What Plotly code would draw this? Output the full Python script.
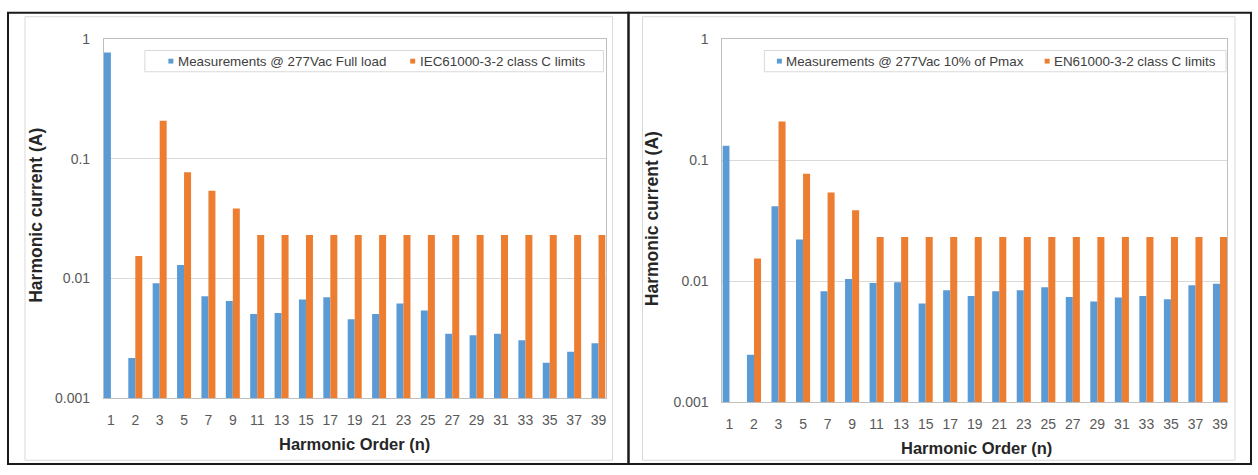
import plotly.graph_objects as go

# Harmonic orders shown on the category axis
harmonics = ["1", "2", "3", "5", "7", "9", "11", "13", "15", "17", "19",
             "21", "23", "25", "27", "29", "31", "33", "35", "37", "39"]

# Measured harmonic currents (A)
full_load = [0.77, 0.00217, 0.00912, 0.0130, 0.00712, 0.00649, 0.00506,
             0.00515, 0.00668, 0.00698, 0.00458, 0.00506, 0.0062, 0.00542,
             0.00347, 0.00336, 0.00347, 0.00306, 0.00198, 0.00245, 0.00288]
low_load = [0.131, 0.00247, 0.0415, 0.0221, 0.00827, 0.0104, 0.00964,
            0.0098, 0.00655, 0.00842, 0.00754, 0.00827, 0.00842, 0.0089,
            0.0074, 0.0068, 0.00731, 0.00754, 0.00709, 0.00923, 0.0095]

# Class C limits (A); no limit for the fundamental
class_c_limits = [None, 0.0154, 0.208, 0.077, 0.054, 0.0385, 0.0231,
                  0.0231, 0.0231, 0.0231, 0.0231, 0.0231, 0.0231, 0.0231,
                  0.0231, 0.0231, 0.0231, 0.0231, 0.0231, 0.0231, 0.0231]

name_full = "Measurements @ 277Vac Full load"
name_low = "Measurements @ 277Vac 10% of Pmax"
name_iec = "IEC61000-3-2 class C limits"
name_en = "EN61000-3-2 class C limits"

y_ticks = [0.001, 0.01, 0.1, 1]
y_ticktext = ["0.001", "0.01", "0.1", "1"]

BLUE = "#5B9BD5"
ORANGE = "#ED7D31"
W, H = 1258, 475
FONT = "Liberation Sans, Arial, sans-serif"


def px(x):
    return x / W


def py(y):
    return 1 - y / H


fig = go.Figure()
fig.add_trace(go.Bar(x=harmonics, y=full_load, name=name_full,
                     marker=dict(color=BLUE, line_width=0),
                     xaxis="x", yaxis="y"))
fig.add_trace(go.Bar(x=harmonics, y=class_c_limits, name=name_iec,
                     marker=dict(color=ORANGE, line_width=0),
                     xaxis="x", yaxis="y"))
fig.add_trace(go.Bar(x=harmonics, y=low_load, name=name_low,
                     marker=dict(color=BLUE, line_width=0),
                     xaxis="x2", yaxis="y2"))
fig.add_trace(go.Bar(x=harmonics, y=class_c_limits, name=name_en,
                     marker=dict(color=ORANGE, line_width=0),
                     xaxis="x2", yaxis="y2"))

xcommon = dict(type="category", categoryorder="array", categoryarray=harmonics,
               range=[-0.287, len(harmonics) - 1 + 0.287],
               showgrid=False, showline=True, linecolor="#bfbfbf", linewidth=1,
               mirror=True, ticks="", ticklabelstandoff=9,
               tickfont=dict(family=FONT, size=14, color="#595959"),
               zeroline=False, fixedrange=True)
ycommon = dict(type="log", range=[-3, 0], tickvals=y_ticks, ticktext=y_ticktext,
               showgrid=True, gridcolor="#d9d9d9", gridwidth=1,
               showline=True, linecolor="#bfbfbf", linewidth=1, mirror=True,
               ticks="", ticklabelstandoff=10,
               tickfont=dict(family=FONT, size=14, color="#595959"),
               zeroline=False, fixedrange=True)

fig.update_layout(
    width=W, height=H,
    margin=dict(l=0, r=0, t=0, b=0, pad=0),
    paper_bgcolor="white", plot_bgcolor="white",
    barmode="group", bargap=0.426, bargroupgap=0,
    showlegend=False,
    xaxis=dict(xcommon, domain=[px(104), px(606)], anchor="y"),
    yaxis=dict(ycommon, domain=[py(404), py(32)], anchor="x"),
    xaxis2=dict(xcommon, domain=[px(723), px(1228)], anchor="y2"),
    yaxis2=dict(ycommon, domain=[py(408), py(32)], anchor="x2"),
)

shapes = []
annotations = []

# Panel frames: dark outer border with a light inner chart-area border
for x0, x1 in [(25, 613), (643, 1236)]:
    shapes.append(dict(type="rect", xref="paper", yref="paper",
                       x0=px(x0), x1=px(x1), y0=py(468), y1=py(9),
                       line=dict(color="#d9d9d9", width=1)))
for x0, x1 in [(8, 629), (629, 1252)]:
    shapes.append(dict(type="rect", xref="paper", yref="paper",
                       x0=px(x0), x1=px(x1), y0=py(472), y1=py(5),
                       line=dict(color="#1a1a1a", width=2)))

# Legend boxes with small square keys
legends = [
    (145, 604, [(171, name_full, BLUE), (413, name_iec, ORANGE)]),
    (765, 1227, [(780, name_low, BLUE), (1048, name_en, ORANGE)]),
]
for bx0, bx1, items in legends:
    shapes.append(dict(type="rect", xref="paper", yref="paper",
                       x0=px(bx0), x1=px(bx1), y0=py(66), y1=py(44),
                       fillcolor="white", line=dict(color="#d9d9d9", width=1),
                       layer="above"))
    for mx, label, color in items:
        shapes.append(dict(type="rect", xref="paper", yref="paper",
                           x0=px(mx - 2.5), x1=px(mx + 2.5),
                           y0=py(57.5), y1=py(52.5),
                           fillcolor=color, line=dict(width=0), layer="above"))
        annotations.append(dict(xref="paper", yref="paper", x=px(mx + 5), y=py(55),
                                xanchor="left", yanchor="middle", showarrow=False,
                                text=label,
                                font=dict(family=FONT, size=13.4, color="#404040")))

# Axis titles
for cx, cy in [(355, 451), (977, 455)]:
    annotations.append(dict(xref="paper", yref="paper", x=px(cx), y=py(cy),
                            xanchor="center", yanchor="middle", showarrow=False,
                            text="<b>Harmonic Order (n)</b>",
                            font=dict(family=FONT, size=16.5, color="#262626")))
for cx, cy in [(36, 214), (652, 218)]:
    annotations.append(dict(xref="paper", yref="paper", x=px(cx), y=py(cy),
                            xanchor="center", yanchor="middle", showarrow=False,
                            textangle=-90,
                            text="<b>Harmonic current (A)</b>",
                            font=dict(family=FONT, size=17.5, color="#262626")))

fig.update_layout(shapes=shapes, annotations=annotations)
fig.write_html("out.html")
